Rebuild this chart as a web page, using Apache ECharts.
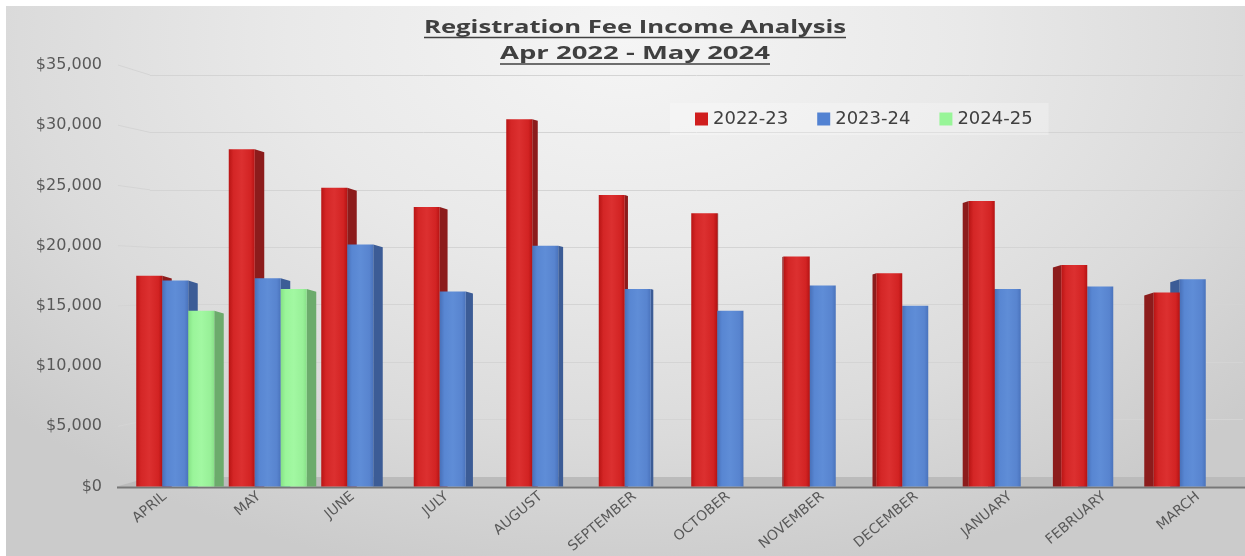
<!DOCTYPE html>
<html>
<head>
<meta charset="utf-8">
<script src="https://cdn.jsdelivr.net/npm/echarts@6/dist/echarts.min.js"></script>
<style>
  html, body { margin:0; padding:0; background:#ffffff; }
  #wrap { position:relative; width:1245px; height:556px; overflow:hidden; background:#ffffff; }
  #bg { position:absolute; left:6px; top:6px; right:0; bottom:0;
        background: radial-gradient(ellipse 68% 100% at 50% 6%, #f5f5f5 0%, #e9e9e9 40%, #dbdbdb 72%, #cbcbcb 100%); }
  #chart { position:absolute; left:0; top:0; width:1245px; height:556px; }
</style>
</head>
<body>
<div id="wrap"><div id="bg"></div><div id="chart"></div></div>
<script>
// ---------------- data ----------------
const months = ['APRIL','MAY','JUNE','JULY','AUGUST','SEPTEMBER','OCTOBER','NOVEMBER','DECEMBER','JANUARY','FEBRUARY','MARCH'];
const seriesNames = ['2022-23','2023-24','2024-25'];
const fy2022_23 = [17500, 28000, 24800, 23200, 30500, 24200, 22700, 19100, 17700, 23700, 18400, 16100];
const fy2023_24 = [17100, 17300, 20100, 16200, 20000, 16400, 14600, 16700, 15000, 16400, 16600, 17200];
const fy2024_25 = [14600, 16400, null, null, null, null, null, null, null, null, null, null];
const yTickLabels = ['$0','$5,000','$10,000','$15,000','$20,000','$25,000','$30,000','$35,000'];
const titleLines = ['Registration Fee Income Analysis', 'Apr 2022 - May 2024'];

// ---------------- styling ----------------
const SLOT = 26, BAR_W = 26, DEPTH = 9.5, VANISH = 740, SPREAD = 380;
const palettes = [
  { legend:'#d01e1e', side:'#8c1c1c',
    front:[['0','#b81414'],['0.18','#d42626'],['0.5','#dc3030'],['0.85','#d22323'],['1','#b51313']] },
  { legend:'#5282d2', side:'#3c5c96',
    front:[['0','#4870b8'],['0.18','#5886d2'],['0.5','#5f8dd7'],['0.85','#5884cf'],['1','#4a73bc']] },
  { legend:'#98f598', side:'#6cab6c',
    front:[['0','#86e286'],['0.18','#9af59a'],['0.5','#a2f8a2'],['0.85','#98f098'],['1','#88e088']] }
];
const valueSets = [fy2022_23, fy2023_24, fy2024_25];

function makeRender(sIdx) {
  const pal = palettes[sIdx];
  return function (params, api) {
    const i = api.value(0), v = api.value(1);
    const base = api.coord([i, 0]);
    const top = api.coord([i, v]);
    const cx = base[0] + (sIdx - 1) * SLOT;
    const xl = cx - BAR_W / 2, xr = cx + BAR_W / 2;
    const y0 = base[1], y1 = top[1];
    const dx = DEPTH * Math.max(-1, Math.min(1, (VANISH - cx) / SPREAD));
    const dy = Math.abs(dx) * 0.3;
    const leftHalf = cx < VANISH;
    const z2 = leftHalf ? sIdx * 3 : (10 - sIdx) * 3;
    const edge = dx >= 0 ? xr : xl;
    const side = {
      type:'polygon', z2:z2,
      shape:{ points:[[edge, y1],[edge + dx, y1 + dy],[edge + dx, y0],[edge, y0]] },
      style:{ fill:pal.side }
    };
    const front = {
      type:'rect', z2:z2 + 1,
      shape:{ x:xl, y:y1, width:BAR_W, height:y0 - y1 },
      style:{ fill:{ type:'linear', x:0, y:0, x2:1, y2:0,
        colorStops: pal.front.map(s => ({ offset:+s[0], color:s[1] })) } }
    };
    return { type:'group', children:[side, front] };
  };
}

const chart = echarts.init(document.getElementById('chart'), null, { renderer:'canvas' });

const series = seriesNames.map((name, s) => ({
  name: name,
  type: 'custom',
  xAxisIndex: 0, yAxisIndex: 0,
  renderItem: makeRender(s),
  itemStyle: { color: palettes[s].legend },
  encode: { x: 0, y: 1 },
  data: valueSets[s].map((v, i) => [i, v]).filter(d => d[1] != null)
}));

chart.setOption({
  backgroundColor: 'transparent',
  animation: false,
  grid: [
    { left: 129, right: 6, top: 65, bottom: 69.5 },   // bars (front plane)
    { left: 150, right: 2, top: 75, bottom: 79 },      // back wall
    { left: 118, right: -5, top: 65, bottom: 69.5 }    // category labels
  ],
  xAxis: [
    { type:'category', gridIndex:0, data:months, show:false },
    { type:'category', gridIndex:1, data:months, show:false },
    { type:'category', gridIndex:2, data:months,
      axisLine:{show:false}, axisTick:{show:false},
      axisLabel:{ rotate:40, margin:22, color:'#595959', fontSize:14,
                  fontFamily:'DejaVu Sans', interval:0 } }
  ],
  yAxis: [
    { type:'value', gridIndex:0, min:0, max:35000, interval:5000,
      axisLine:{show:false}, axisTick:{show:false}, splitLine:{show:false},
      axisLabel:{ margin:27, color:'#595959', fontSize:16, fontFamily:'DejaVu Sans',
                  formatter: v => yTickLabels[Math.round(v / 5000)] } },
    { type:'value', gridIndex:1, min:0, max:35000, interval:5000,
      axisLine:{show:false}, axisTick:{show:false}, axisLabel:{show:false},
      splitLine:{ show:true, lineStyle:{ color:'#d4d4d4', width:1 } } },
    { type:'value', gridIndex:2, min:0, max:35000, show:false }
  ],
  legend: {
    data: seriesNames,
    left: 670, top: 103,
    icon: 'rect', itemWidth: 13, itemHeight: 13, itemGap: 29,
    padding: [7, 16, 7, 25],
    backgroundColor: 'rgba(255,255,255,0.25)',
    textStyle: { color:'#404040', fontSize:18, fontFamily:'DejaVu Sans' }
  },
  series: series
});

// ---------------- decorations (title, floor, side-wall lines) ----------------
const ctx = document.createElement('canvas').getContext('2d');
const TITLE_FONT_SIZE = 18;
ctx.font = 'bold ' + TITLE_FONT_SIZE + 'px "Open Sans"';
const titleSpec = [
  { text: titleLines[0], cy: 27.5, uy: 37.5, target: 422 },
  { text: titleLines[1], cy: 54, uy: 64, target: 270 }
];
const graphics = [];
const CX = 635;
titleSpec.forEach((t, k) => {
  const w = ctx.measureText(t.text).width;
  const sc = t.target / w;
  graphics.push({
    type:'text', id:'t' + k, x:CX, y:t.cy, scaleX:sc, z:20,
    style:{ text:t.text, x:0, y:0, align:'center', verticalAlign:'middle',
            fill:'#404040', font:'bold ' + TITLE_FONT_SIZE + 'px "Open Sans"' }
  });
  graphics.push({
    type:'line', id:'u' + k, z:20,
    shape:{ x1:CX - t.target / 2, y1:t.uy, x2:CX + t.target / 2, y2:t.uy },
    style:{ stroke:'#404040', lineWidth:1.6 }
  });
});

const yFront0 = chart.convertToPixel({ yAxisIndex:0 }, 0);
const yBack0 = chart.convertToPixel({ yAxisIndex:1 }, 0);
for (let k = 1; k < yTickLabels.length; k++) {
  const v = k * 5000;
  const yf = chart.convertToPixel({ yAxisIndex:0 }, v);
  const yb = chart.convertToPixel({ yAxisIndex:1 }, v);
  graphics.push({
    type:'line', id:'d' + k, z:0,
    shape:{ x1:118, y1:yf, x2:150, y2:yb },
    style:{ stroke:'#d4d4d4', lineWidth:1 }
  });
}
graphics.push({
  type:'polygon', id:'floor', z:0,
  shape:{ points:[[150, yBack0],[1245, yBack0],[1245, yFront0],[117, yFront0]] },
  style:{ fill:'#bbbbbb' }
});
graphics.push({
  type:'line', id:'axis', z:1,
  shape:{ x1:117, y1:yFront0 + 1, x2:1245, y2:yFront0 + 1 },
  style:{ stroke:'#777777', lineWidth:2 }
});
chart.setOption({ graphic: graphics });
</script>
</body>
</html>
